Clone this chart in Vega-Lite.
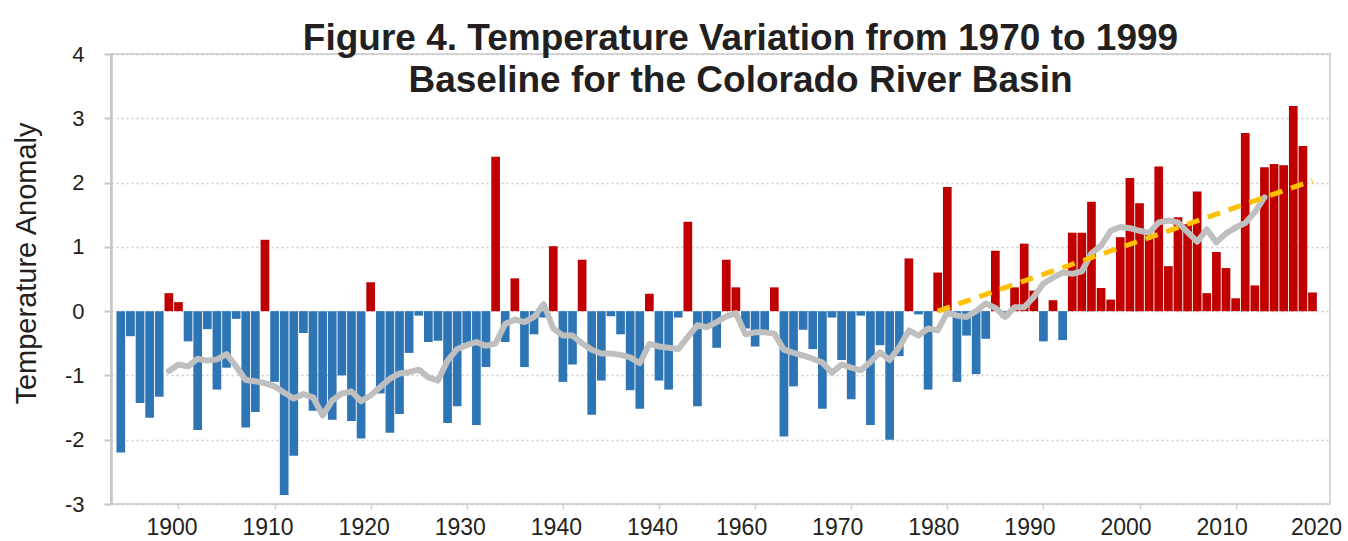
{
  "$schema": "https://vega.github.io/schema/vega-lite/v6.json",
  "width": 1219,
  "height": 450,
  "autosize": {"type": "none"},
  "padding": {"left": 111, "top": 54, "right": 18, "bottom": 37},
  "background": "white",
  "config": {
    "font": "Liberation Sans",
    "view": {"stroke": "#d6d6d6", "strokeWidth": 2}
  },
  "title": {
    "text": ["Figure 4. Temperature Variation from 1970 to 1999", "Baseline for the Colorado River Basin"],
    "fontSize": 37,
    "fontWeight": "bold",
    "font": "Liberation Sans",
    "color": "#231f20",
    "anchor": "middle",
    "frame": "group",
    "dx": 20,
    "offset": -57,
    "lineHeight": 42
  },
  "datasets": {
    "bars": [
      {"year": 1894, "anomaly": -2.20}, {"year": 1895, "anomaly": -0.39}, {"year": 1896, "anomaly": -1.43}, {"year": 1897, "anomaly": -1.66}, {"year": 1898, "anomaly": -1.33},
      {"year": 1899, "anomaly": 0.28}, {"year": 1900, "anomaly": 0.14}, {"year": 1901, "anomaly": -0.47}, {"year": 1902, "anomaly": -1.85}, {"year": 1903, "anomaly": -0.28},
      {"year": 1904, "anomaly": -1.22}, {"year": 1905, "anomaly": -0.88}, {"year": 1906, "anomaly": -0.12}, {"year": 1907, "anomaly": -1.81}, {"year": 1908, "anomaly": -1.57},
      {"year": 1909, "anomaly": 1.11}, {"year": 1910, "anomaly": -1.10}, {"year": 1911, "anomaly": -2.86}, {"year": 1912, "anomaly": -2.25}, {"year": 1913, "anomaly": -0.34},
      {"year": 1914, "anomaly": -1.55}, {"year": 1915, "anomaly": -1.60}, {"year": 1916, "anomaly": -1.69}, {"year": 1917, "anomaly": -1.00}, {"year": 1918, "anomaly": -1.71},
      {"year": 1919, "anomaly": -1.98}, {"year": 1920, "anomaly": 0.45}, {"year": 1921, "anomaly": -1.28}, {"year": 1922, "anomaly": -1.89}, {"year": 1923, "anomaly": -1.60},
      {"year": 1924, "anomaly": -0.65}, {"year": 1925, "anomaly": -0.07}, {"year": 1926, "anomaly": -0.48}, {"year": 1927, "anomaly": -0.46}, {"year": 1928, "anomaly": -1.74},
      {"year": 1929, "anomaly": -1.48}, {"year": 1930, "anomaly": -0.50}, {"year": 1931, "anomaly": -1.77}, {"year": 1932, "anomaly": -0.87}, {"year": 1933, "anomaly": 2.40},
      {"year": 1934, "anomaly": -0.48}, {"year": 1935, "anomaly": 0.51}, {"year": 1936, "anomaly": -0.87}, {"year": 1937, "anomaly": -0.36}, {"year": 1938, "anomaly": -0.10},
      {"year": 1939, "anomaly": 1.01}, {"year": 1940, "anomaly": -1.10}, {"year": 1941, "anomaly": -0.83}, {"year": 1942, "anomaly": 0.80}, {"year": 1943, "anomaly": -1.61},
      {"year": 1944, "anomaly": -1.08}, {"year": 1945, "anomaly": -0.08}, {"year": 1946, "anomaly": -0.36}, {"year": 1947, "anomaly": -1.23}, {"year": 1948, "anomaly": -1.52},
      {"year": 1949, "anomaly": 0.27}, {"year": 1950, "anomaly": -1.08}, {"year": 1951, "anomaly": -1.22}, {"year": 1952, "anomaly": -0.10}, {"year": 1953, "anomaly": 1.39},
      {"year": 1954, "anomaly": -1.48}, {"year": 1955, "anomaly": -0.25}, {"year": 1956, "anomaly": -0.57}, {"year": 1957, "anomaly": 0.80}, {"year": 1958, "anomaly": 0.37},
      {"year": 1959, "anomaly": -0.27}, {"year": 1960, "anomaly": -0.55}, {"year": 1961, "anomaly": -0.30}, {"year": 1962, "anomaly": 0.37}, {"year": 1963, "anomaly": -1.95},
      {"year": 1964, "anomaly": -1.17}, {"year": 1965, "anomaly": -0.29}, {"year": 1966, "anomaly": -0.59}, {"year": 1967, "anomaly": -1.52}, {"year": 1968, "anomaly": -0.10},
      {"year": 1969, "anomaly": -0.76}, {"year": 1970, "anomaly": -1.37}, {"year": 1971, "anomaly": -0.07}, {"year": 1972, "anomaly": -1.77}, {"year": 1973, "anomaly": -0.53},
      {"year": 1974, "anomaly": -2.00}, {"year": 1975, "anomaly": -0.70}, {"year": 1976, "anomaly": 0.82}, {"year": 1977, "anomaly": -0.05}, {"year": 1978, "anomaly": -1.22},
      {"year": 1979, "anomaly": 0.60}, {"year": 1980, "anomaly": 1.93}, {"year": 1981, "anomaly": -1.10}, {"year": 1982, "anomaly": -0.38}, {"year": 1983, "anomaly": -0.98},
      {"year": 1984, "anomaly": -0.43}, {"year": 1985, "anomaly": 0.94}, {"year": 1986, "anomaly": -0.10}, {"year": 1987, "anomaly": 0.37}, {"year": 1988, "anomaly": 1.05},
      {"year": 1989, "anomaly": 0.32}, {"year": 1990, "anomaly": -0.47}, {"year": 1991, "anomaly": 0.17}, {"year": 1992, "anomaly": -0.45}, {"year": 1993, "anomaly": 1.22},
      {"year": 1994, "anomaly": 1.22}, {"year": 1995, "anomaly": 1.70}, {"year": 1996, "anomaly": 0.36}, {"year": 1997, "anomaly": 0.18}, {"year": 1998, "anomaly": 1.15},
      {"year": 1999, "anomaly": 2.07}, {"year": 2000, "anomaly": 1.68}, {"year": 2001, "anomaly": 1.20}, {"year": 2002, "anomaly": 2.25}, {"year": 2003, "anomaly": 0.70},
      {"year": 2004, "anomaly": 1.46}, {"year": 2005, "anomaly": 1.35}, {"year": 2006, "anomaly": 1.86}, {"year": 2007, "anomaly": 0.28}, {"year": 2008, "anomaly": 0.92},
      {"year": 2009, "anomaly": 0.67}, {"year": 2010, "anomaly": 0.20}, {"year": 2011, "anomaly": 2.77}, {"year": 2012, "anomaly": 0.40}, {"year": 2013, "anomaly": 2.24},
      {"year": 2014, "anomaly": 2.29}, {"year": 2015, "anomaly": 2.27}, {"year": 2016, "anomaly": 3.19}, {"year": 2017, "anomaly": 2.57}, {"year": 2018, "anomaly": 0.29}
    ],
    "average": [
      {"year": 1899, "anomaly": -0.93}, {"year": 1900, "anomaly": -0.83}, {"year": 1901, "anomaly": -0.86}, {"year": 1902, "anomaly": -0.74}, {"year": 1903, "anomaly": -0.77},
      {"year": 1904, "anomaly": -0.75}, {"year": 1905, "anomaly": -0.67}, {"year": 1906, "anomaly": -0.86}, {"year": 1907, "anomaly": -1.07}, {"year": 1908, "anomaly": -1.09},
      {"year": 1909, "anomaly": -1.12}, {"year": 1910, "anomaly": -1.17}, {"year": 1911, "anomaly": -1.27}, {"year": 1912, "anomaly": -1.36}, {"year": 1913, "anomaly": -1.29},
      {"year": 1914, "anomaly": -1.34}, {"year": 1915, "anomaly": -1.62}, {"year": 1916, "anomaly": -1.39}, {"year": 1917, "anomaly": -1.28}, {"year": 1918, "anomaly": -1.25},
      {"year": 1919, "anomaly": -1.40}, {"year": 1920, "anomaly": -1.31}, {"year": 1921, "anomaly": -1.18}, {"year": 1922, "anomaly": -1.05}, {"year": 1923, "anomaly": -0.97},
      {"year": 1924, "anomaly": -0.95}, {"year": 1925, "anomaly": -0.91}, {"year": 1926, "anomaly": -1.03}, {"year": 1927, "anomaly": -1.08}, {"year": 1928, "anomaly": -0.77},
      {"year": 1929, "anomaly": -0.59}, {"year": 1930, "anomaly": -0.53}, {"year": 1931, "anomaly": -0.48}, {"year": 1932, "anomaly": -0.54}, {"year": 1933, "anomaly": -0.50},
      {"year": 1934, "anomaly": -0.20}, {"year": 1935, "anomaly": -0.13}, {"year": 1936, "anomaly": -0.17}, {"year": 1937, "anomaly": -0.09}, {"year": 1938, "anomaly": 0.11},
      {"year": 1939, "anomaly": -0.27}, {"year": 1940, "anomaly": -0.38}, {"year": 1941, "anomaly": -0.38}, {"year": 1942, "anomaly": -0.50}, {"year": 1943, "anomaly": -0.60},
      {"year": 1944, "anomaly": -0.66}, {"year": 1945, "anomaly": -0.66}, {"year": 1946, "anomaly": -0.68}, {"year": 1947, "anomaly": -0.72}, {"year": 1948, "anomaly": -0.81},
      {"year": 1949, "anomaly": -0.51}, {"year": 1950, "anomaly": -0.55}, {"year": 1951, "anomaly": -0.57}, {"year": 1952, "anomaly": -0.59}, {"year": 1953, "anomaly": -0.40},
      {"year": 1954, "anomaly": -0.22}, {"year": 1955, "anomaly": -0.25}, {"year": 1956, "anomaly": -0.17}, {"year": 1957, "anomaly": -0.08}, {"year": 1958, "anomaly": -0.03},
      {"year": 1959, "anomaly": -0.36}, {"year": 1960, "anomaly": -0.33}, {"year": 1961, "anomaly": -0.33}, {"year": 1962, "anomaly": -0.35}, {"year": 1963, "anomaly": -0.60},
      {"year": 1964, "anomaly": -0.65}, {"year": 1965, "anomaly": -0.69}, {"year": 1966, "anomaly": -0.74}, {"year": 1967, "anomaly": -0.80}, {"year": 1968, "anomaly": -0.96},
      {"year": 1969, "anomaly": -0.83}, {"year": 1970, "anomaly": -0.88}, {"year": 1971, "anomaly": -0.92}, {"year": 1972, "anomaly": -0.79}, {"year": 1973, "anomaly": -0.64},
      {"year": 1974, "anomaly": -0.76}, {"year": 1975, "anomaly": -0.56}, {"year": 1976, "anomaly": -0.30}, {"year": 1977, "anomaly": -0.38}, {"year": 1978, "anomaly": -0.27},
      {"year": 1979, "anomaly": -0.30}, {"year": 1980, "anomaly": -0.02}, {"year": 1981, "anomaly": -0.07}, {"year": 1982, "anomaly": -0.09}, {"year": 1983, "anomaly": 0.00},
      {"year": 1984, "anomaly": 0.12}, {"year": 1985, "anomaly": 0.05}, {"year": 1986, "anomaly": -0.09}, {"year": 1987, "anomaly": 0.06}, {"year": 1988, "anomaly": 0.06},
      {"year": 1989, "anomaly": 0.22}, {"year": 1990, "anomaly": 0.43}, {"year": 1991, "anomaly": 0.52}, {"year": 1992, "anomaly": 0.60}, {"year": 1993, "anomaly": 0.58},
      {"year": 1994, "anomaly": 0.62}, {"year": 1995, "anomaly": 0.90}, {"year": 1996, "anomaly": 1.02}, {"year": 1997, "anomaly": 1.25}, {"year": 1998, "anomaly": 1.31},
      {"year": 1999, "anomaly": 1.29}, {"year": 2000, "anomaly": 1.25}, {"year": 2001, "anomaly": 1.22}, {"year": 2002, "anomaly": 1.38}, {"year": 2003, "anomaly": 1.41},
      {"year": 2004, "anomaly": 1.38}, {"year": 2005, "anomaly": 1.23}, {"year": 2006, "anomaly": 1.08}, {"year": 2007, "anomaly": 1.27}, {"year": 2008, "anomaly": 1.07},
      {"year": 2009, "anomaly": 1.21}, {"year": 2010, "anomaly": 1.30}, {"year": 2011, "anomaly": 1.37}, {"year": 2012, "anomaly": 1.54}, {"year": 2013, "anomaly": 1.77}
    ],
    "trend": [
      {"year": 1979, "anomaly": 0.0},
      {"year": 2018, "anomaly": 2.03}
    ]
  },
  "layer": [
    {
      "data": {"name": "bars"},
      "mark": {"type": "bar", "width": 8.7},
      "encoding": {
        "x": {
          "field": "year",
          "type": "quantitative",
          "scale": {"domain": [1893.5, 2019.3], "nice": false, "zero": false},
          "axis": {
            "title": null,
            "values": [1900, 1910, 1920, 1930, 1940, 1950, 1960, 1970, 1980, 1990, 2000, 2010, 2019.3],
            "labelExpr": "datum.value == 1950 ? '1940' : (datum.value > 2019 ? '2020' : '' + datum.value)",
            "grid": false,
            "domain": false,
            "ticks": true,
            "tickSize": 5,
            "tickWidth": 1.5,
            "tickColor": "#d0d0d0",
            "tickOpacity": {"condition": {"test": "datum.value > 2019", "value": 0}, "value": 1},
            "labelFontSize": 23,
            "labelColor": "#231f20",
            "labelPadding": 7,
            "labelOffset": {"condition": [{"test": "datum.value > 2019", "value": -9}, {"test": "datum.value < 1960", "value": -7}], "value": -14},
            "labelFlush": false,
            "labelOverlap": false
          }
        },
        "y": {
          "field": "anomaly",
          "type": "quantitative",
          "scale": {"domain": [-3, 4], "nice": false},
          "axis": {
            "title": "Temperature Anomaly",
            "titleFontSize": 29,
            "titleFontWeight": "normal",
            "titleColor": "#231f20",
            "titleX": -85,
            "titleY": 209,
            "titleAngle": -90,
            "titleAlign": "center",
            "titleBaseline": "middle",
            "values": [-3, -2, -1, 0, 1, 2, 3, 4],
            "labelExpr": "'' + datum.value",
            "grid": true,
            "gridDash": [2, 3],
            "gridColor": "#c9c9c9",
            "gridWidth": 1.5,
            "domain": true,
            "domainColor": "#c6c6c6",
            "domainWidth": 2.5,
            "tickSize": 7,
            "tickWidth": 2,
            "tickColor": "#c6c6c6",
            "labelFontSize": 22,
            "labelColor": "#231f20",
            "labelPadding": 20
          }
        },
        "color": {
          "condition": {"test": "datum.anomaly > 0", "value": "#C00000"},
          "value": "#2E75B6"
        }
      }
    },
    {
      "data": {"name": "average"},
      "mark": {"type": "line", "color": "#bfbfbf", "strokeWidth": 6, "strokeJoin": "round", "strokeCap": "round"},
      "encoding": {
        "x": {"field": "year", "type": "quantitative"},
        "y": {"field": "anomaly", "type": "quantitative"}
      }
    },
    {
      "data": {"name": "trend"},
      "mark": {"type": "line", "color": "#FFC000", "strokeWidth": 5, "strokeDash": [13, 9]},
      "encoding": {
        "x": {"field": "year", "type": "quantitative"},
        "y": {"field": "anomaly", "type": "quantitative"}
      }
    }
  ]
}
